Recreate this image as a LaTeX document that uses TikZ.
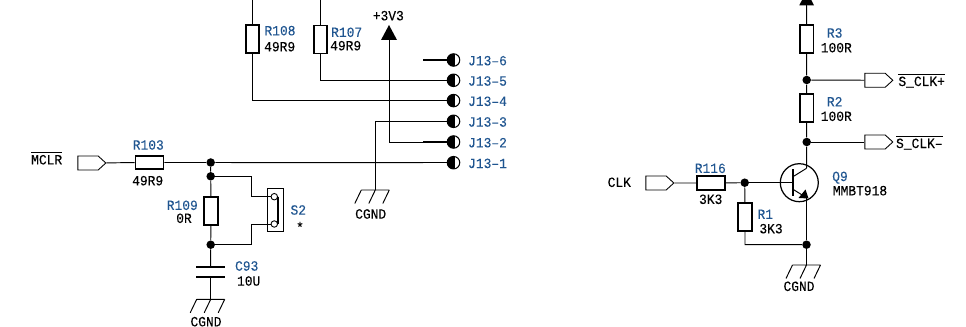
\documentclass[tikz,border=0pt]{standalone}
\usepackage{fontspec}
\setmainfont[FakeStretch=0.92,FakeBold=0.1]{Liberation Mono}
\usetikzlibrary{arrows,shapes.symbols}
\definecolor{refblue}{HTML}{1F5590}
\tikzset{wire/.style={line width=0.55pt},pinstub/.style={line width=0.9pt},
resv/.style={rectangle,draw,line width=1pt,minimum width=0.27cm,minimum height=0.56cm,inner sep=0pt},
resh/.style={rectangle,draw,line width=1pt,minimum width=0.56cm,minimum height=0.27cm,inner sep=0pt},
port/.style={signal,signal to=east,signal pointer angle=85,draw,line width=0.5pt,minimum width=0.56cm,minimum height=0.28cm,inner sep=0pt},
dot/.style={circle,fill=black,inner sep=0pt,minimum size=0.17cm},
jack/.style={circle,draw,line width=0.6pt,inner sep=0pt,minimum size=0.25cm,path picture={\fill ([xshift=0.6pt]path picture bounding box.north) -- ([xshift=0.6pt]path picture bounding box.south) -- (path picture bounding box.south west) -- (path picture bounding box.north west) -- cycle;}},
ref/.style={text=refblue,font=\fontsize{8}{9}\selectfont,inner sep=0pt},
val/.style={text=black,font=\fontsize{8}{9}\selectfont,inner sep=0pt},
cgnd/.pic={\draw[wire] (-14,0) -- (14,0) (-14,0) -- (-20.5,13.5) (0,0) -- (-6.5,13.5) (14,0) -- (7.5,13.5);}}
\begin{document}
\begin{tikzpicture}[x=0.02cm,y=-0.02cm]
\useasboundingbox (0,0) rectangle (966,327);
%mclr
\node (mclrtxt) at (46.7,158)[val]{$\overline{\mbox{MCLR}}$};
\node (mclr) at (88,163)[port]{};
\node (r103) at (149.5,162.5)[resh]{};
\node at (148.3,145)[ref]{R103};
\node at (147.7,180.7)[val]{49R9};
\node (d1) at (210.7,162.5)[dot]{};
\node (d2) at (210.7,176.3)[dot]{};
\node (r109) at (211,211)[resv]{};
\node at (182.3,205.3)[ref]{R109};
\node at (184,218.3)[val]{0R};
\node (d3) at (210.7,244.7)[dot]{};
\node (c93a) at (210.7,267.3)[inner sep=0pt]{};
\node (c93b) at (210.7,276.7)[inner sep=0pt]{};
\node at (246.7,266)[ref]{C93};
\node at (248.7,281)[val]{10U};
\coordinate (g1) at (210.7,299.3);
\node at (206,321.7)[val]{CGND};
\pic at (g1) {cgnd};
\draw[wire] (mclr) -- (r103) -- (d1) -- (d2) -- (r109) -- (d3) -- (c93a);
\draw[wire] (c93b) -- (g1);
\draw[line width=1.2pt] (196,267.3) -- (225.3,267.3) (196,276.7) -- (225.3,276.7);
%s2
\node (s2) at (275.2,210.2)[rectangle,draw,line width=0.6pt,minimum width=0.325cm,minimum height=0.86cm,inner sep=0pt]{};
\node (s2a) at (274.3,196.7)[circle,draw,fill=white,line width=0.5pt,inner sep=0pt,minimum size=0.13cm]{};
\node (s2b) at (274.3,224)[circle,draw,fill=white,line width=0.5pt,inner sep=0pt,minimum size=0.13cm]{};
\draw[line width=0.8pt] (s2a.east) -- (s2b.east);
\draw[wire] (d2) -| (251.7,196.7) -- (s2a);
\draw[wire] (d3) -| (251.7,224) -- (s2b);
\node at (298.3,210)[ref]{S2};
\node at (300,227)[val]{*};
%resistors top
\coordinate (t108) at (252.5,0);
\coordinate (t107) at (320.5,0);
\node (r108) at (252.5,39)[resv]{};
\node (r107) at (320.5,39.5)[resv]{};
\node at (280,30.7)[ref]{R108};
\node at (279.7,46.7)[val]{49R9};
\node at (346.7,32.3)[ref]{R107};
\node at (345.7,45.7)[val]{49R9};
%j13
\foreach \n/\yy in {6/60,5/80.3,4/100.6,3/121.3,2/142,1/162.7} {
  \node (j\n) at (453.5,\yy)[jack]{};
  \coordinate (p\n) at (423,\yy);
  \draw[pinstub] (p\n) -- (j\n);
  \node at (487.5,\yy+0.7)[ref]{J13--\n};
}
\draw[wire] (t108) -- (r108) |- (p4);
\draw[wire] (t107) -- (r107) |- (p5);
\draw[wire] (d1) -- (p1);
%3v3
\node at (388.3,15.7)[val]{+3V3};
\coordinate (v1) at (389,40);
\fill (389,25) -- (397,40) -- (381,40) -- cycle;
\draw[wire] (v1) |- (p2);
%gnd j13-3
\coordinate (g2) at (375.3,190);
\draw[wire] (p3) -| (g2);
\pic at (g2) {cgnd};
\node at (370.7,214)[val]{CGND};
%clk
\node (clktxt) at (619.3,182.3)[val]{CLK};
\node (clk) at (656,183)[port]{};
\node (r116) at (710.7,183)[resh]{};
\node at (710.3,168.3)[ref]{R116};
\node at (710.7,199.3)[val]{3K3};
\node (d4) at (744.7,182.7)[dot]{};
\node (r1) at (745,217.3)[resv]{};
\node at (765.3,214.3)[ref]{R1};
\node at (771,228.7)[val]{3K3};
\node (d5) at (806.5,244.7)[dot]{};
\draw[wire] (clk) -- (r116) -- (d4) -- (r1) |- (d5);
%q9
\node (q9) at (799.3,182.7)[circle,draw,line width=0.7pt,inner sep=0pt,minimum size=0.76cm]{};
\coordinate (qb) at (793,182.7);
\coordinate (qc) at (806.5,168.3);
\coordinate (qe) at (806.5,197.7);
\draw[wire] (d4) -- (qb);
\draw[line width=0.9pt] (793,169.3) -- (793,196);
\draw[wire] (793,176.7) -- (qc);
\draw[wire] (793,189.3) -- (qe);
\fill (805.5,189.5) -- (798.5,198) -- (808.5,198.5) -- cycle;
\node at (840,177.7)[ref]{Q9};
\node at (860,190.7)[val]{MMBT918};
%divider
\coordinate (t3) at (806.5,5);
\fill (799.3,5.3) -- (814,5.3) -- (806.6,-9) -- cycle;
\node (r3) at (806.7,39.3)[resv]{};
\node (d6) at (806.7,80)[dot]{};
\node (r2) at (806.7,108)[resv]{};
\node (d7) at (806.7,142)[dot]{};
\node at (834.7,33)[ref]{R3};
\node at (836.3,47.7)[val]{100R};
\node at (834.7,101.7)[ref]{R2};
\node at (836.3,116.3)[val]{100R};
\node (sp) at (875,80.3)[port]{};
\node (sm) at (875,142)[port]{};
\node (sptxt) at (921.7,80.3)[val]{$\overline{\mbox{S\_CLK+}}$};
\node (smtxt) at (919.3,142.3)[val]{$\overline{\mbox{S\_CLK--}}$};
\draw[wire] (t3) -- (r3) -- (d6) -- (r2) -- (d7) -- (qc);
\draw[wire] (d6) -- (sp);
\draw[wire] (d7) -- (sm);
\coordinate (g3) at (806.5,265);
\draw[wire] (qe) -- (d5) -- (g3);
\pic at (g3) {cgnd};
\node at (799,286.3)[val]{CGND};
\end{tikzpicture}
\end{document}
